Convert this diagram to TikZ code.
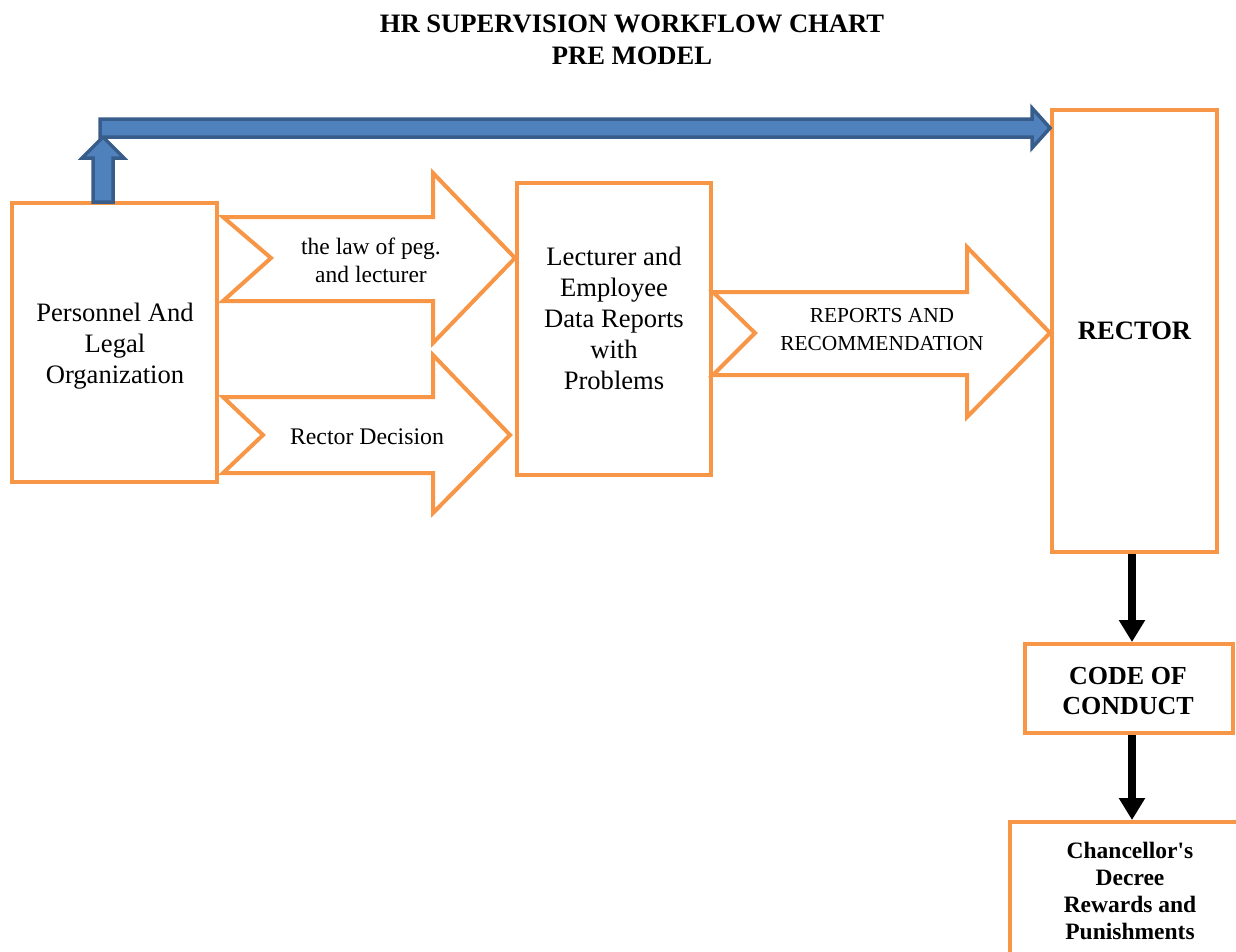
\documentclass[tikz,border=0pt]{standalone}
\usepackage{fontspec}
\setmainfont{Liberation Serif}
\usetikzlibrary{arrows.meta}
\definecolor{boxorange}{HTML}{F79646}
\definecolor{flowblue}{HTML}{4F81BD}
\definecolor{flowblueedge}{HTML}{385D8A}
\tikzset{
  obox/.style={draw=boxorange, line width=4pt, fill=white, inner sep=0pt},
  oarrow/.style={draw=boxorange, line width=4pt, fill=white, line join=miter},
  barrow/.style={draw=flowblueedge, line width=3.5pt, fill=flowblue, line join=miter},
  blkarrow/.style={draw=black, line width=8pt, -{Triangle[width=25pt,length=22pt]}},
  txt/.style={align=center, inner sep=0pt},
}
\begin{document}
\begin{tikzpicture}[x=1pt, y=-1pt]
\useasboundingbox (0,0) rectangle (1236,951);

% title
\node[txt, font=\fontsize{26.6}{32}\selectfont\bfseries] (title) at (632,40)
  {HR SUPERVISION WORKFLOW CHART\\PRE MODEL};

% boxes
\node[obox, minimum width=205pt, minimum height=279pt] (pl) at (114.5,342.5) {};
\node[obox, minimum width=194pt, minimum height=292pt] (mid) at (614,329) {};
\node[obox, minimum width=165pt, minimum height=442pt] (rector) at (1134.5,331) {};
\node[obox, minimum width=208pt, minimum height=89pt] (code) at (1129,688.5) {};
\node[obox, minimum width=240pt, minimum height=160pt] (decree) at (1130,902) {};

% box texts
\node[txt, font=\fontsize{26.6}{31}\selectfont] (pltxt) at (115,346)
  {Personnel And\\Legal\\Organization};
\node[txt, font=\fontsize{26.6}{31}\selectfont] (midtxt) at (614,318)
  {Lecturer and\\Employee\\Data Reports\\with\\Problems};
\node[txt, font=\fontsize{26.6}{31}\selectfont\bfseries] (rectortxt) at (rector) {RECTOR};
\node[txt, font=\fontsize{26}{30}\selectfont\bfseries] (codetxt) at (1128,691) {CODE OF\\CONDUCT};
\node[txt, font=\fontsize{23.5}{27}\selectfont\bfseries] (decreetxt) at (1130,890.5)
  {Chancellor\textquotesingle s\\Decree\\Rewards and\\Punishments};

% notched orange arrows between the boxes
\draw[oarrow] (223,217) -- (433,217) -- (433,173) -- (515,258) -- (433,343)
  -- (433,301) -- (223,301) -- (271,258) -- cycle;
\node[txt, font=\fontsize{23.5}{28}\selectfont] (lawtxt) at (371,260)
  {the law of peg.\\and lecturer};

\draw[oarrow] (223,397) -- (433,397) -- (433,355) -- (510,435) -- (433,513)
  -- (433,473) -- (223,473) -- (263,435) -- cycle;
\node[txt, font=\fontsize{23.8}{28}\selectfont] (dectxt) at (367,437) {Rector Decision};

\draw[oarrow] (713,292) -- (967,292) -- (967,247) -- (1050,333) -- (967,417)
  -- (967,375) -- (713,375) -- (755,333) -- cycle;
\node[txt, font=\fontsize{21.4}{28}\selectfont] (reptxt) at (882,330)
  {REPORTS AND\\RECOMMENDATION};

% blue route from the organization box to the rector
\draw[barrow] (93,202) -- (93,158) -- (82,158) -- (103,137) -- (124,158)
  -- (113,158) -- (113,202) -- cycle;
\draw[barrow] (100,119) -- (1032,119) -- (1032,108) -- (rector.north west |- 0,128)
  -- (1032,148) -- (1032,137) -- (100,137) -- cycle;

% black arrows down the right column
\draw[blkarrow] ([xshift=-2.5pt]rector.south) -- ([xshift=-2.5pt]rector.south |- code.north);
\draw[blkarrow] ([xshift=3pt]code.south) -- ([xshift=3pt]code.south |- decree.north);
\end{tikzpicture}
\end{document}
